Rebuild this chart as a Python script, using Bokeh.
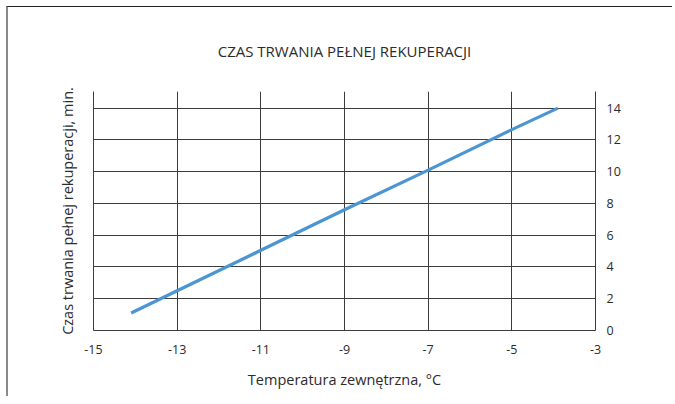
from bokeh.plotting import figure
from bokeh.models import Range1d, LinearAxis, FixedTicker, ColumnDataSource
from bokeh.embed import file_html
from bokeh.resources import INLINE

# data
temps = [-14.1, -13, -11, -9, -7, -5, -3.9]
times = [1.1, 2.5, 5.05, 7.6, 10.1, 12.65, 14.0]
x_ticks = [-15, -13, -11, -9, -7, -5, -3]
x_labels = ["-15", "-13", "-11", "-9", "-7", "-5", "-3"]
y_ticks = [0, 2, 4, 6, 8, 10, 12, 14]

title_text = "CZAS TRWANIA PEŁNEJ REKUPERACJI"
x_title = "Temperatura zewnętrzna, °C"
y_title = "Czas trwania pełnej rekuperacji, min."

FONT = "Open Sans"
TXT = "#2b2b2b"
GRID = "#3c3c3c"

p = figure(width=666, height=390, output_backend="svg", toolbar_location=None,
           x_range=Range1d(-15, -3), y_range=Range1d(0, 15.05),
           y_axis_location="right",
           min_border_left=85, min_border_right=79, min_border_top=83, min_border_bottom=67)
p.styles = {"border-left": "2px solid #8a8a8a", "border-top": "1px solid #222222",
            "margin-left": "6px", "margin-top": "6px"}
p.outline_line_color = None

p.title.text = title_text
p.title.align = "center"
p.title.text_font = FONT
p.title.text_font_size = "15px"
p.title.text_font_style = "normal"
p.title.text_color = TXT
p.title.standoff = 62

# bottom x axis
xa = p.below[0]
xa.ticker = FixedTicker(ticks=x_ticks)
xa.major_label_overrides = dict(zip(x_ticks, x_labels))
xa.major_tick_line_color = None
xa.minor_tick_line_color = None
xa.axis_line_color = GRID
xa.major_label_text_font = FONT
xa.major_label_text_font_size = "12.5px"
xa.major_label_text_color = TXT
xa.major_label_standoff = 8
xa.axis_label = x_title
xa.axis_label_text_font = FONT
xa.axis_label_text_font_size = "14.5px"
xa.axis_label_text_font_style = "normal"
xa.axis_label_text_color = TXT
xa.axis_label_standoff = 13

# right y axis with labels
ya = p.right[0]
ya.ticker = FixedTicker(ticks=y_ticks)
ya.major_tick_line_color = None
ya.minor_tick_line_color = None
ya.axis_line_color = GRID
ya.major_label_text_font = FONT
ya.major_label_text_font_size = "12.5px"
ya.major_label_text_color = TXT
ya.major_label_standoff = 5

p.xgrid.ticker = FixedTicker(ticks=x_ticks)
p.ygrid.ticker = FixedTicker(ticks=y_ticks)
for g in (p.xgrid[0], p.ygrid[0]):
    g.grid_line_color = GRID
    g.grid_line_width = 1

# left axis: line + title only
la = LinearAxis(ticker=FixedTicker(ticks=[]))
la.major_tick_line_color = None
la.minor_tick_line_color = None
la.axis_line_color = GRID
la.major_label_standoff = 0
la.axis_label = y_title
la.axis_label_text_font = FONT
la.axis_label_text_font_size = "14.5px"
la.axis_label_text_font_style = "normal"
la.axis_label_text_color = TXT
la.axis_label_standoff = 17
p.add_layout(la, "left")

src = ColumnDataSource(data=dict(t=temps, m=times))
p.line("t", "m", source=src, line_color="#4b95d3", line_width=3.2)

open("out.html", "w").write(file_html(p, INLINE))
